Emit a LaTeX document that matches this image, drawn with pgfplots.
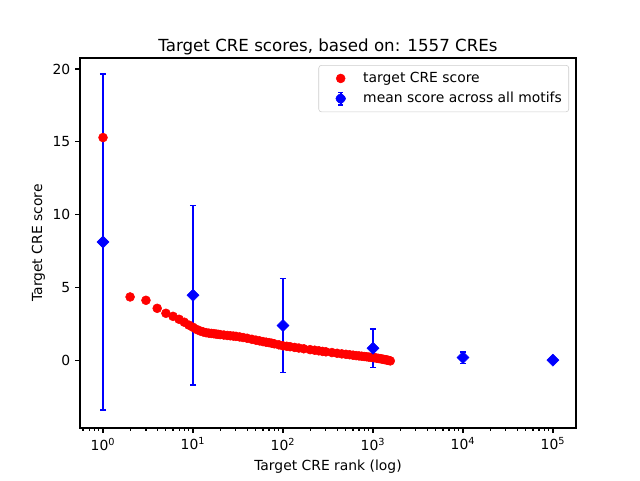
\documentclass[border=0pt]{standalone}
\usepackage{pgfplots}
\pgfplotsset{compat=1.18}
\usepackage{fontspec}
\setmainfont{DejaVu Sans}
\begin{document}
\begin{tikzpicture}
\begin{axis}[
    scale only axis,
    width=357.1pt, height=266.4pt,
    xmode=log,
    xmin=0.555, xmax=180300,
    ymin=-4.6, ymax=20.75,
    xtick={1,10,100,1000,10000,100000},
    xticklabels={10\textsuperscript{0},10\textsuperscript{1},10\textsuperscript{2},10\textsuperscript{3},10\textsuperscript{4},10\textsuperscript{5}},
    minor xtick={0.6,0.7,0.8,0.9,2,3,4,5,6,7,8,9,20,30,40,50,60,70,80,90,200,300,400,500,600,700,800,900,2000,3000,4000,5000,6000,7000,8000,9000,20000,30000,40000,50000,60000,70000,80000,90000,200000},
    ytick={0,5,10,15,20},
    tick pos=left,
    tick align=outside,
    major tick length=3.5pt,
    minor tick length=2pt,
    every tick/.style={black, line width=0.8pt},
    axis line style={line width=0.8pt},
    /pgf/number format/assume math mode=true,
    ticklabel style={font=\fontsize{10}{12}\selectfont},
    title={Target CRE scores, based on: 1557 CREs},
    title style={font=\fontsize{12}{14}\selectfont, yshift=-7pt},
    xlabel={Target CRE rank (log)},
    ylabel={Target CRE score},
    ylabel style={yshift=-1.5pt},
    label style={font=\fontsize{10}{12}\selectfont},
    legend style={at={(rel axis cs:0.986,0.981)}, anchor=north east,
        draw=black!20, rounded corners=2pt, fill=white,
        font=\fontsize{10}{12}\selectfont, row sep=1.5pt, inner sep=3pt},
    legend cell align=left,
    legend image code/.code={
        \path[draw=none, fill=none] (0cm,0cm) -- (0.95cm,0cm);
        \draw[#1] plot coordinates {(0.45cm,0cm)};
    },
]
\addplot[only marks, mark=*, mark size=3.2pt, color=red] coordinates {
(1,15.3)(2,4.38)(3,4.15)(4,3.6)(5,3.26)(6,3.05)(7,2.85)(8,2.65)(9,2.45)(10,2.3)
(11,2.15)(12,2.05)(13,1.98)(14,1.93)(15,1.9)(16,1.88)(17,1.86)(18,1.84)(19,1.82)(20,1.8)
(22,1.77)(24,1.74)(26,1.72)(28,1.7)(30,1.68)(33,1.64)(36,1.6)(40,1.55)(45,1.48)(50,1.42)
(55,1.37)(60,1.32)(65,1.28)(70,1.25)(75,1.21)(80,1.17)(90,1.1)(100,1.03)(110,1.0)(120,0.97)
(135,0.92)(150,0.88)(170,0.83)(200,0.77)(225,0.73)(250,0.69)(275,0.65)(300,0.62)(350,0.57)(400,0.52)
(450,0.48)(500,0.45)(550,0.42)(600,0.39)(650,0.36)(700,0.34)(750,0.32)(800,0.3)(850,0.28)(900,0.26)
(950,0.245)(1000,0.23)(1050,0.21)(1100,0.19)(1150,0.17)(1200,0.15)(1250,0.13)(1300,0.11)(1350,0.09)(1400,0.07)
(1450,0.05)(1500,0.03)(1557,0.0)
};
\addlegendentry{target CRE score}
\addplot[only marks, mark=square*, mark size=3.04pt, mark options={rotate=45}, color=blue,
    legend image code/.code={
        \path[draw=none, fill=none] (0cm,0cm) -- (0.95cm,0cm);
        \draw[blue, line width=1.5pt] (0.45cm,-4.5pt) -- (0.45cm,4.5pt);
        \draw[blue, line width=1pt] (0.45cm-1.8pt,-4.5pt) -- (0.45cm+1.8pt,-4.5pt);
        \draw[blue, line width=1pt] (0.45cm-1.8pt,4.5pt) -- (0.45cm+1.8pt,4.5pt);
        \fill[blue, rotate around={45:(0.45cm,0cm)}] (0.45cm-3.04pt,-3.04pt) rectangle (0.45cm+3.04pt,3.04pt);
    },
    error bars/.cd, y dir=both, y explicit,
    error bar style={line width=1.5pt, blue},
    error mark options={rotate=90, mark size=2.2pt, line width=1.2pt, blue}]
coordinates {
(1,8.15) +- (0,11.5)
(10,4.5) +- (0,6.15)
(100,2.42) +- (0,3.22)
(1000,0.87) +- (0,1.33)
(10000,0.23) +- (0,0.4)
(100000,0.05) +- (0,0.02)
};
\addlegendentry{mean score across all motifs}
\coordinate (sw) at (rel axis cs:0,0);
\coordinate (ne) at (rel axis cs:1,1);
\end{axis}
\pgfresetboundingbox
\path[use as bounding box] ([shift={(-57.6pt,-37.44pt)}]sw) rectangle ([shift={(46.08pt,41.76pt)}]ne);
\end{tikzpicture}
\end{document}
